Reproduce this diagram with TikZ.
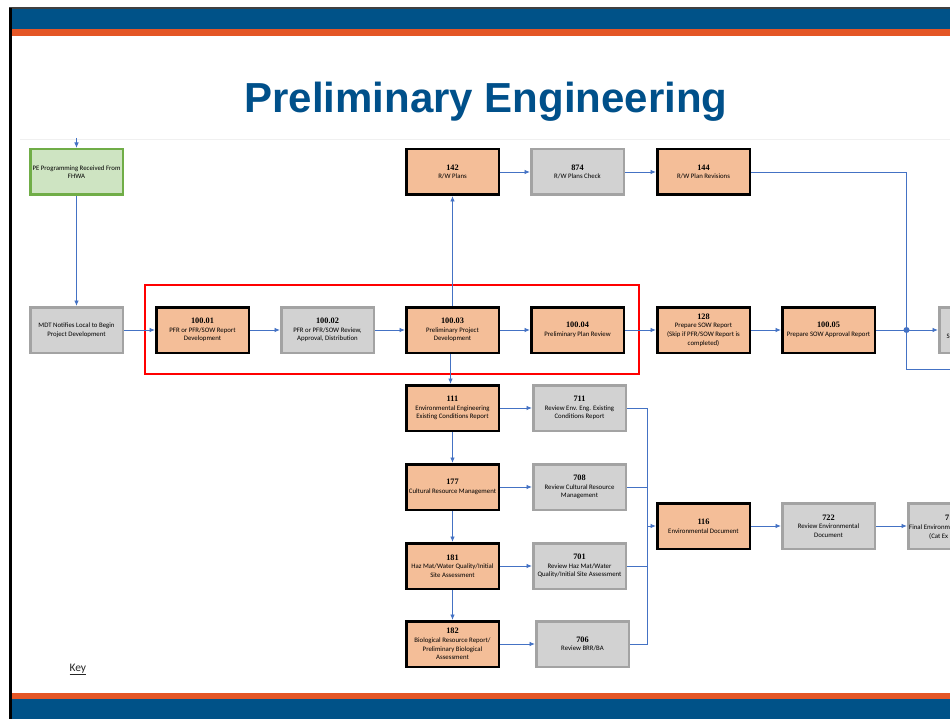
\documentclass[tikz,border=0pt]{standalone}
\usepackage{fontspec}
\setmainfont{Carlito}
\newfontfamily\titlefont{Liberation Sans}
\newfontfamily\numfont{Liberation Serif}
\usetikzlibrary{positioning,arrows.meta,calc}
\usepackage{xcolor}
\definecolor{bandblue}{RGB}{0,82,136}
\definecolor{bandorange}{RGB}{228,86,38}
\definecolor{titleblue}{RGB}{0,80,138}
\definecolor{taskfill}{RGB}{244,190,152}
\definecolor{revfill}{RGB}{210,210,210}
\definecolor{revedge}{RGB}{163,163,163}
\definecolor{startfill}{RGB}{206,228,194}
\definecolor{startedge}{RGB}{112,173,71}
\definecolor{flowblue}{RGB}{68,114,196}
\newcommand{\stepno}[1]{{\numfont\bfseries\fontsize{8.3}{8.6}\selectfont #1}}

\begin{document}
\begin{tikzpicture}[x=1pt,y=-1pt,
  every node/.style={font=\fontsize{6.8}{8.6}\selectfont},
  box/.style={minimum width=92.5pt,minimum height=45.5pt,inner sep=1pt,align=center,line width=2.5pt},
  task/.style={box,draw=black,fill=taskfill},
  review/.style={box,draw=revedge,fill=revfill},
  start/.style={box,draw=startedge,fill=startfill},
  link/.style={draw=flowblue,line width=0.9pt},
  flow/.style={link,-{Latex[length=5.5pt,width=4.5pt]}}]
\useasboundingbox (0,0) rectangle (950,719);
\clip (0,0) rectangle (950,719);
\fill[white] (0,0) rectangle (950,719);
\fill[bandblue] (10,9) rectangle (950,29);
\fill[bandorange] (10,29) rectangle (950,36);
\fill[bandorange] (10,693) rectangle (950,699);
\fill[bandblue] (10,699) rectangle (950,719);
\draw[black!75,line width=1.5pt] (9,8) -- (950,8);
\draw[black,line width=3pt] (10.5,8) -- (10.5,719);
\draw[black!6,line width=0.8pt] (20,139.5) -- (950,139.5);
\node[anchor=base,text=titleblue,font=\titlefont\bfseries\fontsize{42}{42}\selectfont] (title) at (486,113) {Preliminary Engineering};
\draw[red,line width=2pt] (145,285) rectangle (639,374);
\node[start] (fhwa) at (76.5,172) {PE Programming Received From\\FHWA};
\node[review] (notify) at (76.5,330) {MDT Notifies Local to Begin\\Project Development};
\node[task] (p10001) at (202.5,330) {\stepno{100.01}\\PFR or PFR/SOW Report\\Development};
\node[review] (p10002) at (327.5,330) {\stepno{100.02}\\PFR or PFR/SOW Review,\\Approval, Distribution};
\node[task] (p10003) at (452.5,330) {\stepno{100.03}\\Preliminary Project\\Development};
\node[task] (p10004) at (577.5,330) {\stepno{100.04}\\Preliminary Plan Review};
\node[task] (p128) at (703.5,330) {\stepno{128}\\Prepare SOW Report\\(Skip if PFR/SOW Report is\\completed)};
\node[task] (p10005) at (828.5,330) {\stepno{100.05}\\Prepare SOW Approval Report};
\node[review] (nextstep) at (985.5,330) {};
\node[anchor=west] (nexttext) at (943,336) {S};
\node[task] (rw142) at (452.5,172) {\stepno{142}\\R/W Plans};
\node[review] (rw874) at (577.5,172) {\stepno{874}\\R/W Plans Check};
\node[task] (rw144) at (703.5,172) {\stepno{144}\\R/W Plan Revisions};
\node[task] (env111) at (452.5,408) {\stepno{111}\\Environmental Engineering\\Existing Conditions Report};
\node[task] (env177) at (452.5,487) {\stepno{177}\\Cultural Resource Management};
\node[task] (env181) at (452.5,566) {\stepno{181}\\Haz Mat/Water Quality/Initial\\Site Assessment};
\node[task] (env182) at (452.5,644) {\stepno{182}\\Biological Resource Report/\\Preliminary Biological\\Assessment};
\node[review] (rev711) at (579.5,408) {\stepno{711}\\Review Env. Eng. Existing\\Conditions Report};
\node[review] (rev708) at (579.5,487) {\stepno{708}\\Review Cultural Resource\\Management};
\node[review] (rev701) at (579.5,566) {\stepno{701}\\Review Haz Mat/Water\\Quality/Initial Site Assessment};
\node[review] (rev706) at (582.5,644) {\stepno{706}\\Review BRR/BA};
\node[task] (env116) at (703.5,526) {\stepno{116}\\Environmental Document};
\node[review] (rev722) at (828.5,526) {\stepno{722}\\Review Environmental\\Document};
\node[review] (finalenv) at (954.5,526) {};
\node[anchor=west,inner sep=0pt] (finalno) at (945,518) {\stepno{7}};
\node[anchor=west,inner sep=0pt] (finalline1) at (909,527.5) {Final Environm};
\node[anchor=west,inner sep=0pt] (finalline2) at (929,536) {(Cat Ex};
\node[anchor=base west,font=\fontsize{11.5}{12}\selectfont,text=black!85] (key) at (66,671) {\underline{Key}};
\coordinate (intop) at (76.5,138);
\coordinate (envbus) at (647,526);
\coordinate (join) at (906.5,330);
\coordinate (offpage) at (952,369);
\draw[flow] (intop) -- (fhwa);
\draw[flow] (fhwa) -- (notify);
\draw[flow] (notify) -- (p10001);
\draw[flow] (p10001) -- (p10002);
\draw[flow] (p10002) -- (p10003);
\draw[flow] (p10003) -- (p10004);
\draw[flow] (p10004) -- (p128);
\draw[flow] (p128) -- (p10005);
\draw[flow] (p10003) -- (rw142);
\draw[flow] (rw142) -- (rw874);
\draw[flow] (rw874) -- (rw144);
\draw[flow] ([xshift=-2pt]p10003.south) -- ([xshift=-2pt]env111.north);
\draw[flow] (env111) -- (env177);
\draw[flow] (env177) -- (env181);
\draw[flow] (env181) -- (env182);
\draw[flow] (env111) -- (rev711);
\draw[flow] (env177) -- (rev708);
\draw[flow] (env181) -- (rev701);
\draw[flow] (env182) -- (rev706);
\draw[link] (rev711.east) -| (envbus);
\draw[link] (rev706.east) -| (envbus);
\draw[link] (rev708.east) -- (rev708.east -| envbus);
\draw[link] (rev701.east) -- (rev701.east -| envbus);
\draw[flow] (envbus) -- (env116);
\draw[flow] (env116) -- (rev722);
\draw[flow] (rev722) -- (finalenv);
\draw[link] (rw144.east) -| (join);
\draw[link] (p10005.east) -- (join);
\draw[flow] (join) -- (nextstep);
\draw[link] (join) |- (offpage);
\fill[flowblue] (join) circle (3pt);
\end{tikzpicture}
\end{document}
